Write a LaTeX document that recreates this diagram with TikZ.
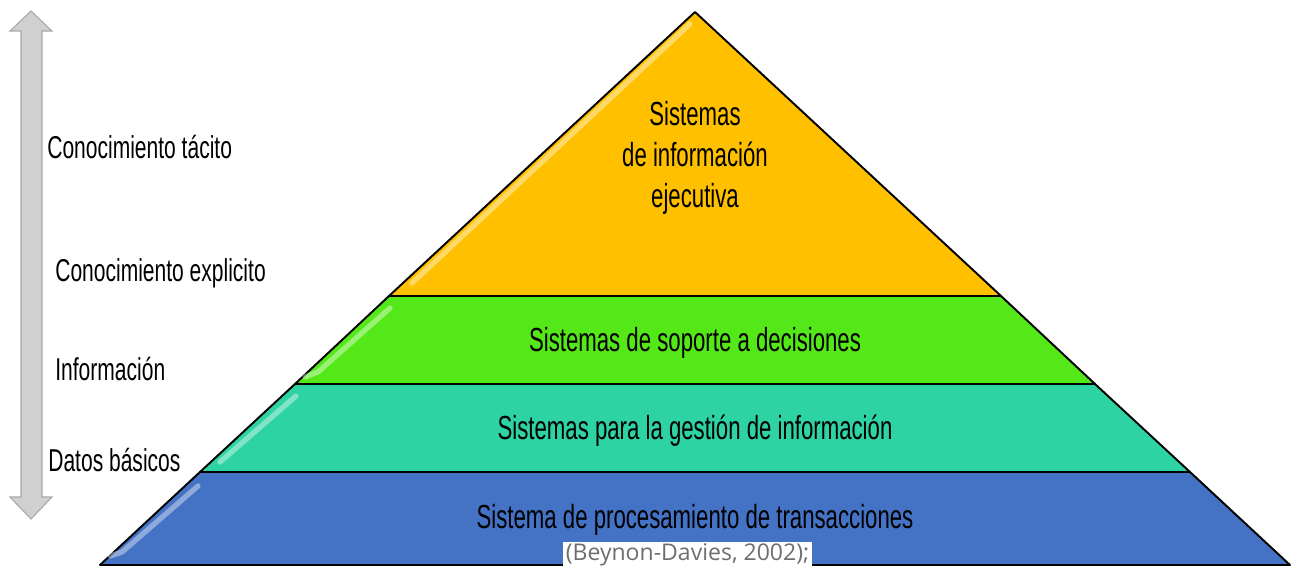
\documentclass[tikz,border=0pt]{standalone}
\usepackage{fontspec}
\setmainfont{Liberation Sans}[FakeStretch=0.665]
\newfontfamily\citefont{Open Sans}
\usetikzlibrary{positioning}
\definecolor{eisyellow}{HTML}{FFC000}
\definecolor{dssgreen}{HTML}{55E819}
\definecolor{misteal}{HTML}{2ED3A3}
\definecolor{tpsblue}{HTML}{4472C4}
\definecolor{arrowgrey}{HTML}{D0D0D0}
\definecolor{arrowedge}{HTML}{A8A8A8}
\definecolor{citegrey}{HTML}{6E6E6E}
\tikzset{
layer/.style={draw=black, line width=1.1pt, line join=round},
gloss/.style={line width=3pt, line cap=round, white, opacity=0.4},
systext/.style={font=\fontsize{19}{23.3}\selectfont, align=center, inner sep=0pt},
sidetext/.style={font=\fontsize{18}{22}\selectfont, anchor=west, inner sep=0pt}}

\begin{document}
\begin{tikzpicture}[x=0.02cm, y=-0.02cm]
        \useasboundingbox (0,0) rectangle (1292,567);

                    \draw[arrowedge, fill=arrowgrey, line width=0.6pt] (31,11) -- (52,31) -- (42,31) -- (42,497) -- (52,497) -- (31,519) -- (10,497) -- (21,497) -- (21,31) -- (10,31) -- cycle;

                    \draw[layer, fill=tpsblue] (100,565) -- (1290,565) -- (1190,472) -- (200,472) -- cycle;
                    \draw[layer, fill=misteal] (200,472) -- (1190,472) -- (1095,384) -- (295,384) -- cycle;
                    \draw[layer, fill=dssgreen] (295,384) -- (1095,384) -- (1001,296) -- (389,296) -- cycle;
                    \draw[layer, fill=eisyellow] (389,296) -- (1001,296) -- (695,12) -- cycle;

                    \draw[gloss] (690,24) -- (412,283);
                    \draw[gloss] (390,308) -- (318,372) -- (305,377);
                    \draw[gloss] (296,396) -- (220,462);
                    \draw[gloss] (198,486) -- (122,552) -- (110,556);

                    \node[systext] (eis) at (695,158) {Sistemas\\de información\\ejecutiva};
                    \node[systext] (dss) at (695,343) {Sistemas de soporte a decisiones};
                    \node[systext] (mis) at (695,431) {Sistemas para la gestión de información};
                    \node[systext] (tps) at (695,520) {Sistema de procesamiento de transacciones};

                    \node[fill=white, inner sep=0pt, minimum width=4.98cm, minimum height=0.5cm, text=citegrey, font=\citefont\fontsize{13.1}{15}\selectfont] (cite) at (687.5,554.5) {(Beynon-Davies, 2002);};

                    \node[sidetext] (tacit) at (47,147) {Conocimiento tácito};
                    \node[sidetext] (explicit) at (55,273) {Conocimiento explicito};
                    \node[sidetext] (info) at (55,369) {Información};
                    \node[sidetext] (data) at (48,460) {Datos básicos};

                \end{tikzpicture}
\end{document}
